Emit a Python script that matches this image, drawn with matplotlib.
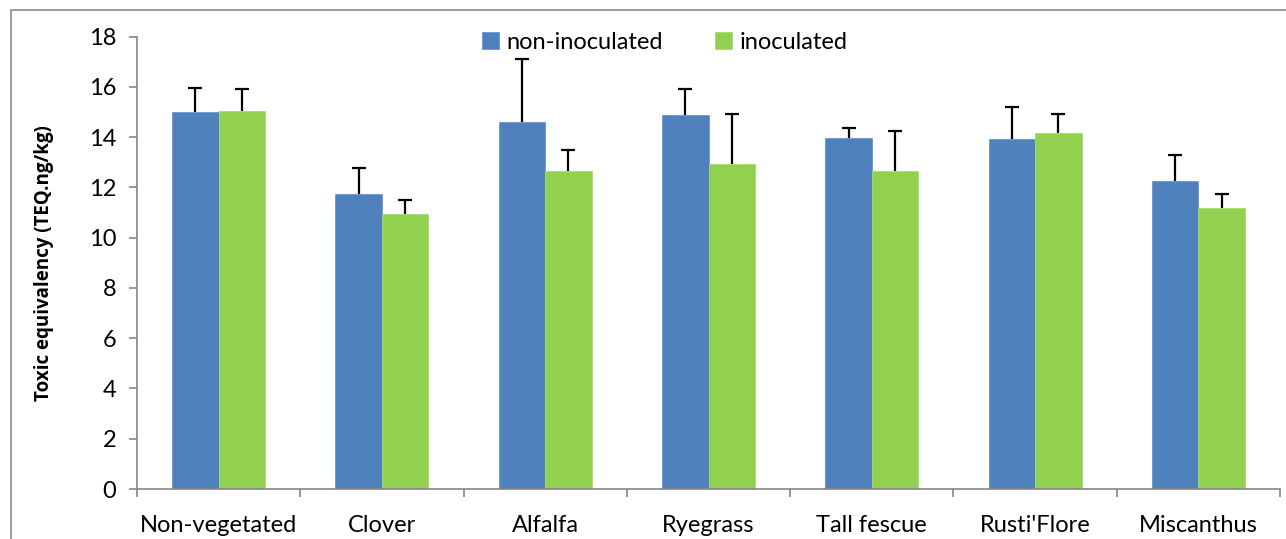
import matplotlib.pyplot as plt
import matplotlib.patches as patches
import numpy as np

plt.rcParams['font.family'] = ['Lato', 'DejaVu Sans']

# datos
categorias = ['Non-vegetated', 'Clover', 'Alfalfa', 'Ryegrass', 'Tall fescue',
              "Rusti'Flore", 'Miscanthus']
no_inoc = [14.99, 11.72, 14.59, 14.86, 13.96, 13.92, 12.24]
no_inoc_err = [0.98, 1.06, 2.52, 1.04, 0.41, 1.26, 1.04]
inoc = [15.02, 10.92, 12.66, 12.92, 12.66, 14.15, 11.16]
inoc_err = [0.91, 0.56, 0.82, 2.01, 1.59, 0.78, 0.57]
yticks = [0, 2, 4, 6, 8, 10, 12, 14, 16, 18]

AZUL = '#4F81BD'
VERDE = '#92D050'
GRIS = '#868686'

fig = plt.figure(figsize=(12.86, 5.39), dpi=100)
ax = fig.add_axes([137 / 1286, 1 - 489 / 539, (1280 - 137) / 1286, (489 - 36.5) / 539])

x = np.arange(len(categorias))
w = 0.285
series = [(x - w / 2, no_inoc, no_inoc_err, AZUL, '#6D95CC', 'non-inoculated'),
          (x + w / 2, inoc, inoc_err, VERDE, '#A6DC72', 'inoculated')]
for xs, vals, errs, col, borde, lab in series:
    ax.bar(xs, vals, w, color=col, edgecolor=borde, lw=0.6, label=lab, zorder=2)
    # solo barra de error hacia arriba, con tapa arriba
    ax.errorbar(xs, vals, yerr=[np.zeros(len(xs)), errs], fmt='none',
                ecolor='black', elinewidth=1.6, capsize=0, zorder=1)
    ax.plot(xs, np.array(vals) + np.array(errs), ls='none', marker='_',
            ms=10, mew=1.6, color='black', zorder=1)

ax.set_xlim(-0.5, len(categorias) - 0.5)
ax.set_ylim(0, 18)
ax.set_yticks(yticks)
ax.tick_params(axis='y', labelsize=17, color=GRIS, length=6, width=1.2, pad=9)

# ticks del eje x en los limites de categoria, etiquetas centradas
ax.set_xticks(np.arange(-0.5, len(categorias)), minor=False)
ax.set_xticklabels([])
ax.set_xticks(x, minor=True)
ax.set_xticklabels(categorias, minor=True, fontsize=17)
ax.tick_params(axis='x', which='major', color=GRIS, length=6, width=1.2)
ax.tick_params(axis='x', which='minor', length=0, pad=19)

for s in ['top', 'right']:
    ax.spines[s].set_visible(False)
for s in ['left', 'bottom']:
    ax.spines[s].set_color(GRIS)
    ax.spines[s].set_linewidth(1.2)

ax.set_ylabel('Toxic equivalency (TEQ.ng/kg)', fontsize=13.5, fontweight='bold',
              family=['Open Sans', 'DejaVu Sans'], labelpad=25)

ax.legend(loc='upper center', bbox_to_anchor=(0.462, 1.058), ncol=2, frameon=False,
          fontsize=17, handlelength=0.7, handleheight=0.7, handletextpad=0.35,
          columnspacing=2.2)

# marco del grafico
fig.patches.append(patches.Rectangle((11 / 1286, -0.1), 2, 1.1 - 9.5 / 539, fill=False,
                                     edgecolor='#8C8C8C', lw=1.2, transform=fig.transFigure))

fig.savefig('out.png', dpi=100)
